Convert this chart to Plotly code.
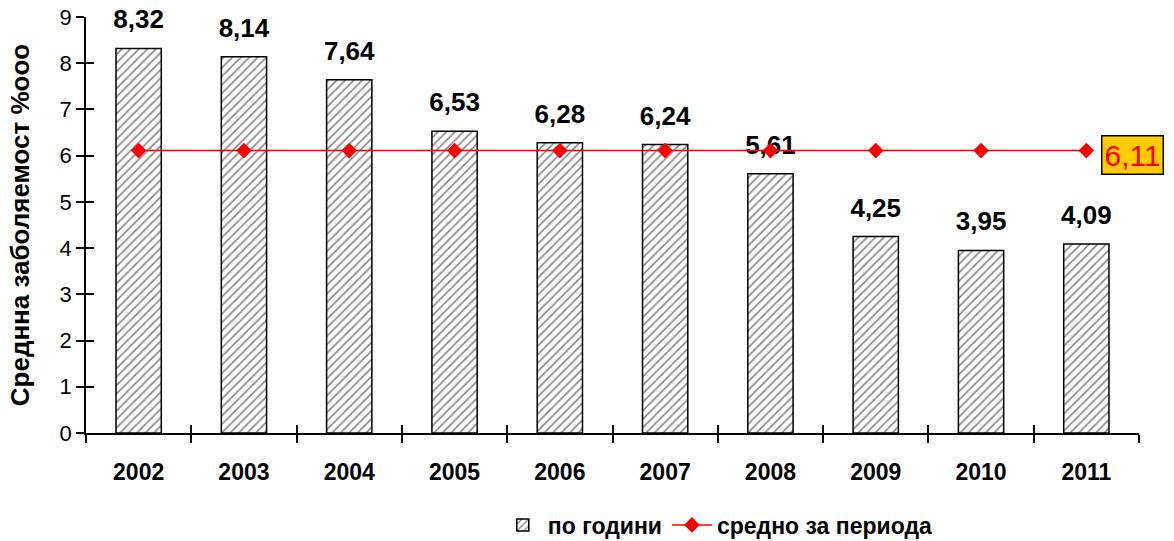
import plotly.graph_objects as go

years = ["2002", "2003", "2004", "2005", "2006", "2007", "2008", "2009", "2010", "2011"]
by_year = [8.32, 8.14, 7.64, 6.53, 6.28, 6.24, 5.61, 4.25, 3.95, 4.09]
period_mean = [6.11] * len(years)
y_ticks = list(range(0, 10))


def fmt(v):
    return f"{v:.2f}".replace(".", ",")


FONT = "Arial, Liberation Sans, sans-serif"

fig = go.Figure()

fig.add_trace(go.Bar(
    x=years, y=by_year, name="по години",
    width=0.43,
    marker=dict(color="white",
                line=dict(color="black", width=1.5),
                pattern=dict(shape="/", fgcolor="black", bgcolor="white",
                             size=6, solidity=0.25)),
))

# value labels above the bars (an invisible marker lifts each label off the bar top)
fig.add_trace(go.Scatter(
    x=years, y=by_year, mode="markers+text", showlegend=False, hoverinfo="skip",
    marker=dict(size=20, opacity=0),
    text=[fmt(v) for v in by_year], textposition="top center", cliponaxis=False,
    textfont=dict(family=FONT, size=26, color="black", weight="bold"),
))

fig.add_trace(go.Scatter(
    x=years, y=period_mean, name="средно за периода", mode="lines+markers",
    line=dict(color="#FF0000", width=1.5),
    marker=dict(symbol="diamond", size=12, color="#FF0000"),
))

# inner half of the crossing tick marks
fig.add_trace(go.Scatter(x=years, y=[None] * len(years), xaxis="x2", yaxis="y2",
                         showlegend=False, hoverinfo="skip"))

# average value box at the end of the line
fig.add_annotation(
    xref="paper", yref="y", x=1.0, y=period_mean[0], xanchor="left", xshift=-38,
    yshift=-4,
    text=fmt(period_mean[0]), showarrow=False,
    font=dict(family=FONT, size=30, color="#FF0000"),
    bgcolor="#FFCC00", bordercolor="black", borderwidth=1.5, borderpad=2,
)

x_range = [-0.5, len(years) - 0.5]

fig.update_layout(
    width=1174, height=541,
    margin=dict(l=86, r=35, t=17, b=108, autoexpand=False),
    paper_bgcolor="white", plot_bgcolor="white",
    font=dict(family=FONT, color="black"),
    xaxis=dict(type="category", range=x_range, showline=True, linecolor="black",
               linewidth=1.5, ticks="outside", ticklen=8, tickcolor="black",
               tickwidth=1.5, tickson="boundaries", ticklabelstandoff=18,
               automargin=False, tickfont=dict(size=23, weight="bold"),
               showgrid=False),
    xaxis2=dict(type="category", range=x_range, overlaying="x", showline=False,
                ticks="inside", ticklen=8, tickcolor="black", tickwidth=1.5,
                tickson="boundaries", showticklabels=False, showgrid=False),
    yaxis=dict(range=[0, 9], tickvals=y_ticks, showline=True, linecolor="black",
               linewidth=1.5, ticks="outside", ticklen=8, tickcolor="black",
               tickwidth=1.5, tickfont=dict(size=22), showgrid=False, zeroline=False,
               automargin=False,
               title=dict(text="Среднна заболяемост %ооо",
                          font=dict(size=26, weight="bold"), standoff=22)),
    yaxis2=dict(range=[0, 9], tickvals=y_ticks, overlaying="y", showline=False,
                ticks="inside", ticklen=8, tickcolor="black", tickwidth=1.5,
                showticklabels=False, showgrid=False, zeroline=False),
    legend=dict(orientation="h", x=0.6, xanchor="center", y=-0.221, yanchor="middle",
                font=dict(size=23, weight="bold"), itemwidth=40),
)

fig.write_html("out.html")
